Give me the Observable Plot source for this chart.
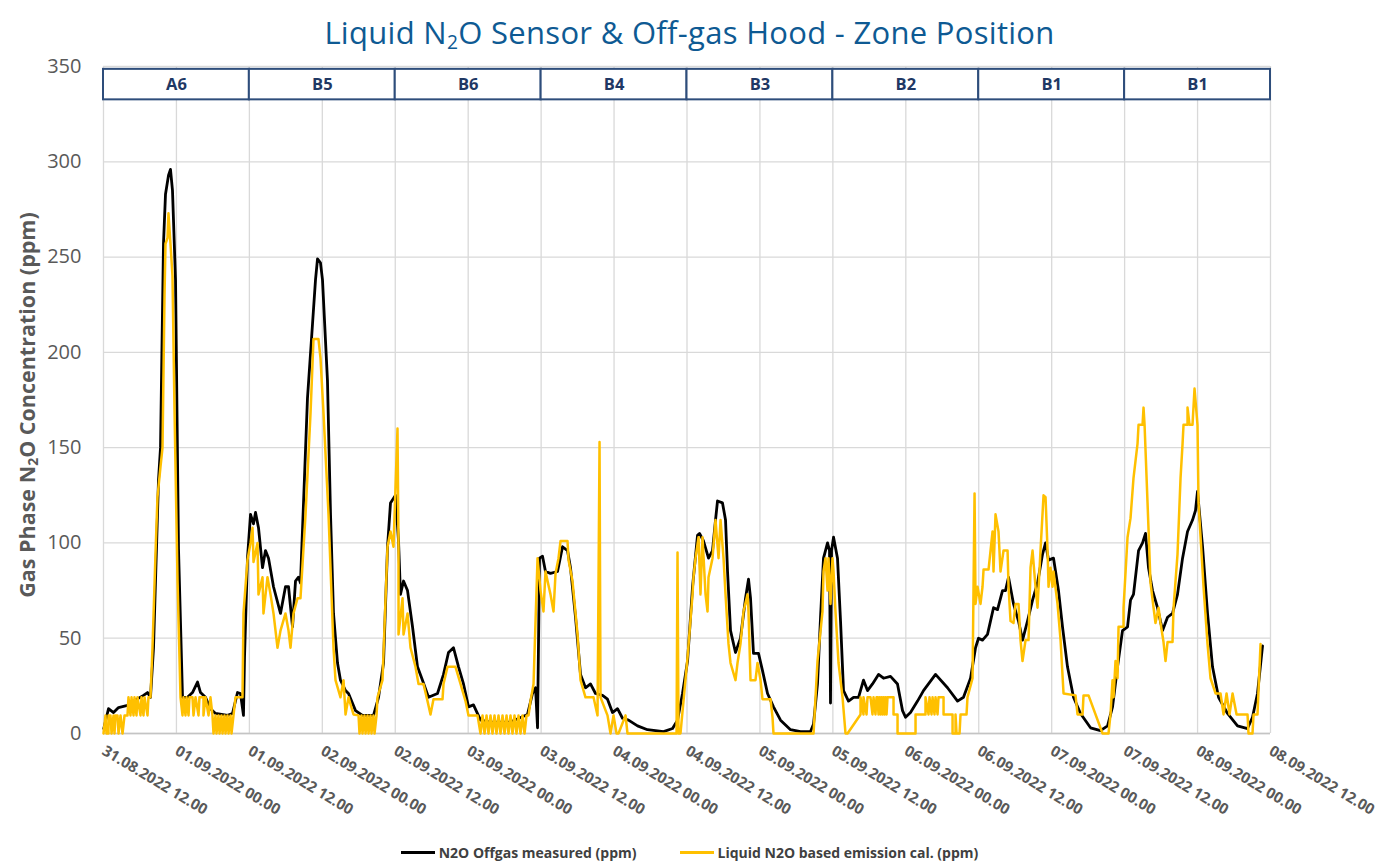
<!DOCTYPE html>
<html><head><meta charset="utf-8">
<script src="https://cdn.jsdelivr.net/npm/d3@7"></script>
<script src="https://cdn.jsdelivr.net/npm/@observablehq/plot@0.6"></script>
<style>
body{margin:0;background:#fff;width:1379px;height:868px;position:relative;overflow:hidden;font-family:"Open Sans",sans-serif}
#chart{position:absolute;left:0;top:0}
#title{position:absolute;top:10px;left:0;width:1379px;text-align:center;font-size:31px;line-height:44px;letter-spacing:0.3px;color:#0e5a93;z-index:2}
#title sub{font-size:0.62em;vertical-align:-0.28em;line-height:0}
#ylab{position:absolute;left:-223px;top:390px;width:500px;height:30px;line-height:30px;text-align:center;transform:rotate(-90deg);font-weight:bold;font-size:21.5px;color:#595959;white-space:nowrap;z-index:2}
#ylab sub{font-size:0.65em;vertical-align:-0.25em;line-height:0}
#legend{position:absolute;top:843px;left:0;width:1379px;display:flex;justify-content:center;gap:43px;font-size:14px;font-weight:bold;color:#404040;z-index:2}
#legend .it{display:flex;align-items:center;gap:4px}
#legend .sw{display:inline-block;width:34px;height:3px}
</style></head>
<body>
<div id="chart"></div>
<div id="title">Liquid N<sub>2</sub>O Sensor &amp; Off-gas Hood - Zone Position</div>
<div id="ylab">Gas Phase N<sub>2</sub>O Concentration (ppm)</div>
<div id="legend">
  <div class="it"><span class="sw" style="background:#000"></span><span>N2O Offgas measured (ppm)</span></div>
  <div class="it"><span class="sw" style="background:#FFC000"></span><span>Liquid N2O based emission cal. (ppm)</span></div>
</div>
<script>
// x tick labels (every 12 hours)
const tickLabels = ["31.08.2022 12.00","01.09.2022 00.00","01.09.2022 12.00","02.09.2022 00.00","02.09.2022 12.00","03.09.2022 00.00","03.09.2022 12.00","04.09.2022 00.00","04.09.2022 12.00","05.09.2022 00.00","05.09.2022 12.00","06.09.2022 00.00","06.09.2022 12.00","07.09.2022 00.00","07.09.2022 12.00","08.09.2022 00.00","08.09.2022 12.00"];
const yTicks = [0,50,100,150,200,250,300,350];
// zone positions (one per day, starting at the listed label)
const zoneNames = ["A6","B5","B6","B4","B3","B2","B1","B1"];
const zoneStarts = ["31.08.2022 12.00","01.09.2022 12.00","02.09.2022 12.00","03.09.2022 12.00","04.09.2022 12.00","05.09.2022 12.00","06.09.2022 12.00","07.09.2022 12.00"];
const zoneEnds = ["01.09.2022 12.00","02.09.2022 12.00","03.09.2022 12.00","04.09.2022 12.00","05.09.2022 12.00","06.09.2022 12.00","07.09.2022 12.00","08.09.2022 12.00"];
const seriesStart = "31.08.2022 12.00";
// [hours since series start, ppm]
const offgasMeasured = [[0.05,2.6],[0.82,13],[1.65,11],[2.47,13.6],[3.95,14.7],[4.94,17],[6.58,20],[7.24,21.5],[7.73,19],[8.23,45],[9.05,133],[9.38,150],[9.87,257],[10.2,283],[10.7,293],[11.02,296],[11.35,285],[11.85,238],[12.34,97],[13,19],[13.82,19],[14.64,21.5],[15.47,27],[15.96,21.5],[16.78,19],[17.6,13],[18.43,10.5],[20.4,9.5],[21.22,10.5],[22.05,21.5],[22.54,21],[23.03,9.5],[23.2,40],[23.69,92],[24.19,115],[24.68,110],[25.01,116],[25.5,108],[26.16,87],[26.65,96],[27.15,92],[27.97,77],[29.12,63],[29.94,77],[30.44,77],[31.1,56],[31.59,80],[32.08,82],[32.41,79],[33.56,176],[34.39,215],[34.88,238],[35.21,249],[35.7,247],[36.03,238],[36.85,185],[37.35,115],[37.84,63],[38.5,37],[38.99,28],[39.82,22.5],[40.31,21],[41.46,12],[42.61,9.5],[44.42,9.5],[45.25,19],[46.07,37],[46.73,98],[47.22,121],[48.04,125],[48.54,101],[48.86,73],[49.36,80],[50.02,75],[50.84,56],[51.66,35],[52.48,28],[53.47,19],[54.95,21],[55.94,31],[56.76,42.5],[57.58,45],[58.41,35],[59.23,26],[60.05,14],[60.87,15],[62.03,7],[63.67,6],[66.96,6],[69.76,10],[70.58,21],[71.08,24],[71.41,3],[71.73,92],[72.23,93],[72.72,85],[73.54,84],[74.7,85],[75.52,98],[76.34,96],[76.83,87],[77.66,61],[78.48,31],[79.3,24],[80.12,26],[80.95,21],[82.1,20],[82.92,18],[83.74,11],[84.57,13],[85.39,8],[86.38,7],[87.86,4],[89.5,2],[92.14,1],[93.62,2.6],[94.44,7],[95.26,21],[96.09,38],[96.91,77],[97.73,104],[98.06,105],[98.72,101],[99.54,92],[100.2,96],[100.69,112],[101.02,122],[101.84,121],[102.34,112],[102.67,85],[103.16,54],[103.98,42.5],[104.8,50],[105.63,71],[106.12,81],[106.45,71],[106.94,42],[107.77,42],[108.42,33],[109.25,21],[110.23,14],[111.39,7],[113.03,2],[114.68,1],[116.32,1],[116.82,5],[117.47,26],[117.97,61],[118.46,92],[119.12,100],[119.45,96],[119.61,16],[119.78,96],[120.11,103],[120.76,92],[121.26,59],[121.75,22.5],[122.57,17],[123.4,19],[124.22,19],[125.04,28],[125.7,22.5],[126.52,26],[127.51,31],[128.33,29],[129.48,30],[130.63,26],[131.46,12],[131.95,8.5],[132.77,11],[133.93,17],[134.91,22.5],[136.89,31],[138.86,24],[140.51,17],[141.49,19],[142.65,29],[143.47,45],[143.96,50],[144.62,49],[145.44,52],[146.43,66],[147.09,65],[147.91,75],[148.4,75],[148.9,82],[149.72,68],[150.54,59],[151.2,49],[152.02,59],[152.85,70],[153.67,79],[154.49,94],[154.99,100],[155.48,91],[156.3,92],[157.12,75],[157.78,56],[158.6,35],[159.59,19],[160.74,10.5],[162.39,3],[164.03,1.5],[165.19,4],[166.01,14],[166.83,35],[167.65,54],[168.48,56],[168.97,70],[169.46,73],[170.29,96],[170.95,100],[171.44,105],[171.93,87],[172.59,75],[173.41,66],[174.24,54],[175.06,61],[175.88,63],[176.7,73],[177.53,92],[178.35,106],[179.17,112],[179.66,117],[179.99,127],[180.82,98],[181.64,63],[182.46,35],[183.45,19],[184.93,10.5],[186.57,4],[188.22,2.6],[189.04,8.5],[189.86,21],[190.69,46]];
const liquidEmission = [[0,0],[0.33,9.5],[0.49,0],[0.82,0],[0.82,9.5],[1.15,9.5],[1.32,0],[1.65,9.5],[1.81,0],[1.97,9.5],[2.3,9.5],[2.47,0],[2.8,9.5],[3.13,0],[3.46,9.5],[3.95,9.5],[4.11,19],[4.44,9.5],[4.61,19],[4.94,9.5],[5.1,19],[5.43,9.5],[5.59,19],[6.09,9.5],[6.25,19],[6.58,9.5],[6.75,19],[7.24,9.5],[7.4,19],[7.73,19],[8.06,45],[8.56,95],[8.88,124],[9.38,140],[9.71,150],[10.04,230],[10.2,257],[10.53,260],[10.69,273],[11.02,257],[11.35,240],[11.68,170],[12.18,80],[12.67,19],[13,9.5],[13.16,19],[13.49,9.5],[13.66,19],[13.99,9.5],[14.15,19],[14.64,19],[14.81,9.5],[15.14,19],[15.63,9.5],[15.79,19],[16.45,19],[16.45,9.5],[16.78,19],[17.28,9.5],[17.6,19],[17.93,9.5],[18.1,0],[18.43,9.5],[18.59,0],[18.92,9.5],[19.09,0],[19.41,9.5],[19.58,0],[19.91,9.5],[20.07,0],[20.4,9.5],[20.57,0],[20.9,9.5],[21.06,0],[21.39,9.5],[21.72,19],[22.87,19],[23.03,63],[23.69,91],[24.19,100],[24.52,108],[24.68,90],[25.34,100],[25.5,73],[26.16,82],[26.32,63],[26.98,82],[27.48,73],[27.97,63],[28.63,45],[29.12,54],[29.94,63],[30.44,54],[30.77,45],[31.26,63],[31.92,71],[32.41,71],[33.24,115],[34.06,168],[34.55,207],[35.37,207],[35.7,197],[36.2,168],[37.02,115],[37.84,45],[38.17,28],[38.99,19],[39.49,28],[39.82,10],[40.31,19],[41.13,10],[41.96,9.5],[42.12,0],[42.45,9.5],[42.61,0],[42.94,9.5],[43.11,0],[43.44,9.5],[43.6,0],[43.93,9.5],[44.09,0],[44.42,9.5],[44.59,0],[44.92,9.5],[45.08,19],[45.9,28],[46.73,98],[47.22,106],[47.71,98],[48.37,160],[48.54,98],[48.54,52],[49.2,71],[49.36,52],[50.02,63],[50.51,45],[51.33,35],[51.83,26],[52.65,26],[53.31,17],[53.8,10],[54.29,18],[55.78,18],[55.94,26],[56.6,35],[57.91,35],[58.74,26],[59.56,17],[60.05,9.5],[61.53,9.5],[62.03,0],[62.36,9.5],[62.69,0],[63.02,9.5],[63.34,0],[63.67,9.5],[64,0],[64.33,9.5],[64.66,0],[64.99,9.5],[65.32,0],[65.65,9.5],[65.98,0],[66.31,9.5],[66.63,0],[66.96,9.5],[67.29,0],[67.62,9.5],[67.95,0],[68.28,9.5],[68.61,0],[68.94,9.5],[69.27,0],[69.6,9.5],[69.93,9.5],[70.25,17],[70.75,26],[71.41,92],[71.9,75],[72.39,64],[72.72,85],[73.54,73],[74.04,64],[74.37,84],[74.86,92],[75.19,101],[76.34,101],[76.51,91],[77.16,80],[77.99,52],[78.48,28],[79.3,19],[80.62,19],[81.28,9.5],[81.61,153],[81.77,19],[82.92,9.5],[83.42,0],[83.91,9.5],[84.41,0],[84.73,0],[85.89,9.5],[86.21,0],[94.28,0],[94.44,95],[94.6,0],[94.93,0],[96.09,40],[96.91,73],[97.07,82],[97.4,92],[97.9,103],[98.22,73],[98.55,103],[99.05,73],[99.38,64],[99.54,82],[100.2,92],[100.69,112],[101.19,92],[101.52,112],[102.01,92],[102.34,73],[102.83,47],[103.16,37],[103.98,28],[104.31,37],[104.8,47],[105.3,64],[105.96,73],[106.12,64],[106.45,28],[107.27,28],[107.6,37],[108.1,28],[108.42,18],[109.74,18],[110.07,8.5],[110.23,0],[116.82,0],[117.47,38],[118.29,64],[118.46,85],[118.79,92],[119.12,75],[119.28,92],[119.61,68],[119.94,92],[120.11,85],[120.43,64],[120.93,37],[121.59,19],[122.08,0],[122.41,0],[124.55,10],[124.55,19],[125.04,10],[125.04,19],[125.54,10],[125.7,19],[126.19,19],[126.52,10],[126.69,19],[127.01,10],[127.18,19],[127.34,19],[127.51,10],[127.67,19],[127.84,10],[128,19],[128.17,10],[128.33,19],[128.5,10],[128.66,19],[128.83,10],[128.99,19],[129.98,19],[129.98,10],[130.64,10],[130.64,0],[133.6,0],[133.6,10],[135.24,10],[135.24,19],[135.74,10],[135.9,19],[136.23,10],[136.4,19],[136.72,10],[136.89,19],[137.22,10],[137.38,19],[138.21,19],[138.21,10],[139.69,10],[139.69,0],[140.18,0],[140.18,10],[140.35,0],[140.84,0],[141,10],[141.99,10],[142.15,19],[142.98,29],[143.31,126],[143.47,68],[143.8,77],[144.29,68],[144.62,77],[144.79,86],[145.61,86],[145.94,96],[146.27,106],[146.43,85],[146.76,115],[147.25,106],[147.58,85],[148.08,96],[148.74,96],[148.9,77],[149.23,59],[149.72,58],[150.05,68],[150.54,68],[150.87,49],[151.2,38],[151.7,49],[152.19,49],[152.52,87],[152.85,96],[153.34,77],[153.67,66],[154.16,96],[154.66,125],[154.99,124],[155.32,96],[155.48,77],[155.81,87],[156.14,77],[156.3,85],[156.96,68],[157.46,49],[157.95,21],[159.92,20],[160.25,10],[161.08,10],[161.24,20],[162.06,20],[164.37,0],[165.35,0],[165.68,10],[166.01,28],[166.18,19],[166.5,38],[166.83,29],[167,56],[167.82,56],[167.82,66],[168.48,103],[168.97,113],[169.46,134],[170.12,152],[170.29,162],[170.95,162],[171.11,171],[171.28,162],[171.77,121],[172.26,79],[172.76,66],[173.08,58],[173.58,66],[173.91,58],[174.4,48],[174.73,38],[175.06,48],[175.88,48],[176.05,66],[176.7,94],[177.2,134],[177.53,152],[177.69,162],[178.35,162],[178.35,171],[178.68,162],[179.17,162],[179.5,181],[179.99,162],[180.16,121],[180.98,77],[181.64,47],[182.13,29],[182.96,21],[183.78,21],[184.27,10],[184.77,21],[185.26,10],[185.76,21],[186.42,10],[188.22,10],[188.38,0],[189.04,0],[189.21,10],[189.86,10],[190.36,47]];

const parse = d3.utcParse("%d.%m.%Y %H.%M");
const fmt = d3.utcFormat("%d.%m.%Y %H.%M");
const t0 = parse(seriesStart).getTime();
const toDate = h => new Date(t0 + h * 3600000);
const tickDates = tickLabels.map(parse);
const offgas = offgasMeasured.map(([h, v]) => ({t: toDate(h), v}));
const liquid = liquidEmission.map(([h, v]) => ({t: toDate(h), v}));
const zones = zoneNames.map((name, i) => {
  const s = parse(zoneStarts[i]), e = parse(zoneEnds[i]);
  return {name, s, e, m: new Date((s.getTime() + e.getTime()) / 2)};
});

const chart = Plot.plot({
  width: 1379, height: 840,
  marginLeft: 103, marginRight: 109, marginTop: 66, marginBottom: 107,
  style: {fontFamily: "'Open Sans', sans-serif", color: "#595959", background: "transparent"},
  x: {type: "utc", domain: [tickDates[0], tickDates[tickDates.length - 1]]},
  y: {domain: [0, 350]},
  marks: [
    Plot.gridX({ticks: tickDates, stroke: "#d9d9d9", strokeOpacity: 1, strokeWidth: 1.3}),
    Plot.gridY({ticks: yTicks, stroke: "#d9d9d9", strokeOpacity: 1, strokeWidth: 1.3}),
    Plot.ruleY([0], {stroke: "#c4c4c4", strokeWidth: 1.6}),
    Plot.axisY({ticks: yTicks, tickSize: 0, tickPadding: 22, fontSize: 20, label: null}),
    Plot.axisX({ticks: tickDates, tickFormat: fmt, tickRotate: 31, tickSize: 0, tickPadding: 16, fontSize: 15, fontWeight: "bold", label: null}),
    Plot.line(offgas, {x: "t", y: "v", stroke: "#000", strokeWidth: 2.8, strokeLinejoin: "round"}),
    Plot.line(liquid, {x: "t", y: "v", stroke: "#FFC000", strokeWidth: 2.5, strokeLinejoin: "round"}),
    Plot.rect(zones, {x1: "s", x2: "e", y1: 332.5, y2: 348.5, fill: "white", stroke: "#2e4d7b", strokeWidth: 2}),
    Plot.text(zones, {x: "m", y: 340.5, text: "name", fontSize: 16.5, fontWeight: "bold", fill: "#1f3864"})
  ]
});
document.getElementById("chart").appendChild(chart);
</script>
</body></html>
